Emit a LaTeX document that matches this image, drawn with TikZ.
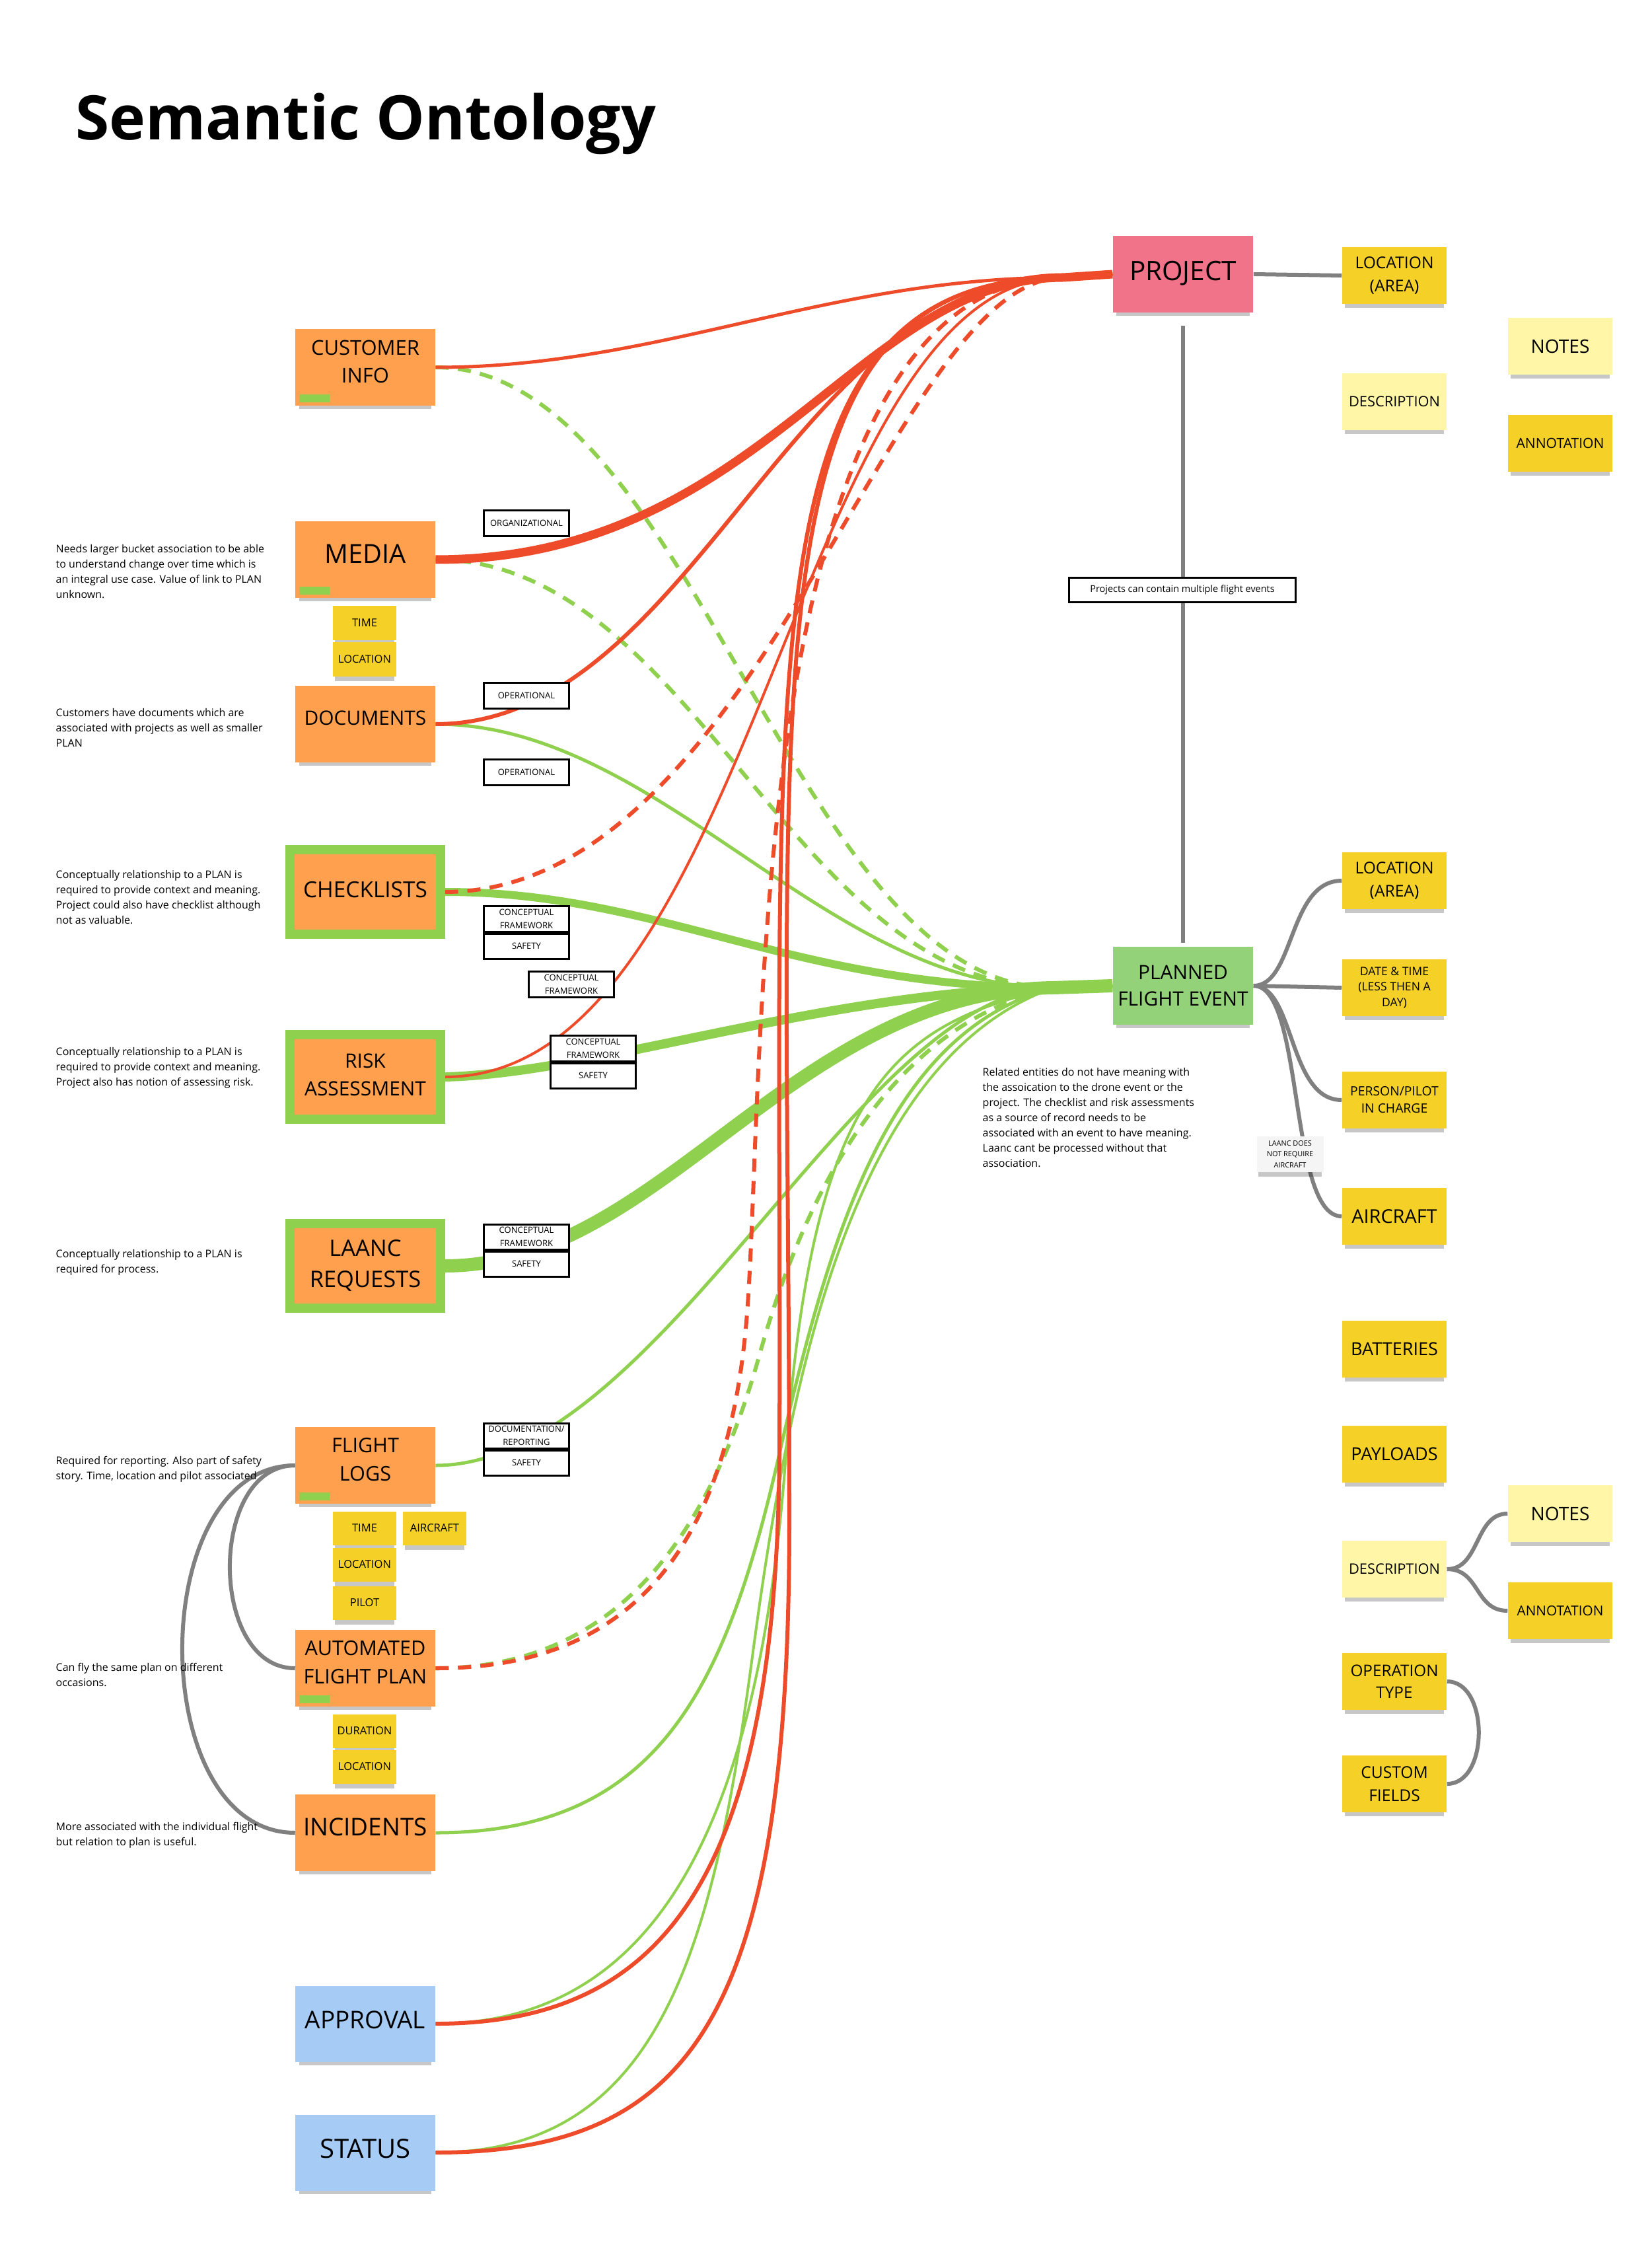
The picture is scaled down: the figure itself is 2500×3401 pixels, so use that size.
\documentclass[tikz,border=0pt]{standalone}
\usepackage{fontspec}
\setmainfont{Open Sans}
\usetikzlibrary{shadows,backgrounds,positioning}
\definecolor{stickyorange}{HTML}{FFA04F}
\definecolor{stickyyellow}{HTML}{F5D128}
\definecolor{paleyellow}{HTML}{FFF6A8}
\definecolor{stickyblue}{HTML}{A6CCF5}
\definecolor{projectpink}{HTML}{F0738A}
\definecolor{plangreen}{HTML}{94D27A}
\definecolor{linkgreen}{HTML}{8FD14F}
\definecolor{linkred}{HTML}{EE4B2B}
\definecolor{linkgray}{HTML}{808080}
\newcommand{\setfs}[2]{\fontsize{#1}{#2}\selectfont}
\begin{document}
\begin{tikzpicture}[x=0.01cm,y=-0.01cm,
    sticky/.style={inner sep=0pt,align=center,
      drop shadow={shadow xshift=0cm,shadow yshift=-0.09cm,shadow scale=0.95,opacity=0.22,fill=black}},
    orangenote/.style={sticky,fill=stickyorange,minimum width=2.11cm,minimum height=1.15cm,text depth=0.18cm},
    framednote/.style={orangenote,draw=linkgreen,line width=0.14cm,minimum width=2.27cm,minimum height=1.27cm,text depth=0.07cm},
    bluenote/.style={sticky,fill=stickyblue,minimum width=2.11cm,minimum height=1.15cm,text depth=0.12cm},
    yellownote/.style={sticky,fill=stickyyellow,minimum width=1.58cm,minimum height=0.86cm},
    palenote/.style={yellownote,fill=paleyellow},
    smallnote/.style={sticky,fill=stickyyellow,minimum width=0.95cm,minimum height=0.51cm,font=\setfs{4.7pt}{6pt}},
    linkbox/.style={draw=black,line width=0.03cm,fill=white,inner sep=0pt,align=center,
      minimum width=1.29cm,minimum height=0.38cm,font=\setfs{3.7pt}{5.6pt}},
    sidenote/.style={inner sep=0pt,align=left,anchor=north west,font=\setfs{4.55pt}{6.5pt}},
    tag/.style={fill=linkgreen,inner sep=0pt,minimum width=0.46cm,minimum height=0.12cm,anchor=south west},
    grayline/.style={draw=linkgray,line width=0.06cm},
    redlink/.style={draw=linkred,line width=0.05cm},
    reddash/.style={redlink,line width=0.06cm,dash pattern=on 0.2cm off 0.14cm},
    greenlink/.style={draw=linkgreen,line width=0.05cm},
    greendash/.style={greenlink,line width=0.06cm,dash pattern=on 0.2cm off 0.14cm}]
  \useasboundingbox (0,0) rectangle (2500,3401);

  \node[anchor=base west,inner sep=0pt,font=\bfseries\setfs{26.4pt}{32pt}] (title) at (114,212) {Semantic Ontology};

  % entities on the left
  \node[orangenote,font=\setfs{8.8pt}{12pt}] (cust) at (553,556) {CUSTOMER\\INFO};
  \node[orangenote,font=\setfs{11.3pt}{14pt}] (media) at (553,847) {MEDIA};
  \node[orangenote,font=\setfs{8.5pt}{12pt}] (docs) at (553,1096) {DOCUMENTS};
  \node[framednote,font=\setfs{9.5pt}{12pt}] (check) at (553,1350) {CHECKLISTS};
  \node[framednote,font=\setfs{8.5pt}{11.9pt}] (risk) at (553,1630) {RISK\\ASSESSMENT};
  \node[framednote,font=\setfs{9.8pt}{13.4pt}] (laanc) at (553,1916) {LAANC\\REQUESTS};
  \node[orangenote,font=\setfs{8.7pt}{12.2pt}] (flog) at (553,2218) {FLIGHT\\LOGS};
  \node[orangenote,font=\setfs{8.7pt}{12.2pt}] (auto) at (553,2525) {AUTOMATED\\FLIGHT PLAN};
  \node[orangenote,font=\setfs{10.5pt}{13pt}] (inc) at (553,2774) {INCIDENTS};
  \node[bluenote,font=\setfs{10.5pt}{13pt}] (approval) at (553,3063) {APPROVAL};
  \node[bluenote,font=\setfs{11.4pt}{14pt}] (status) at (553,3258) {STATUS};

  \node[tag] (custtag) at ([shift={(6,-5)}]cust.south west) {};
  \node[tag] (mediatag) at ([shift={(6,-5)}]media.south west) {};
  \node[tag] (flogtag) at ([shift={(6,-5)}]flog.south west) {};
  \node[tag] (autotag) at ([shift={(6,-5)}]auto.south west) {};

  \node[smallnote] (mtime) at (552,943) {TIME};
  \node[smallnote] (mloc) at (552,998) {LOCATION};
  \node[smallnote] (ftime) at (552,2313) {TIME};
  \node[smallnote] (faircraft) at (658,2313) {AIRCRAFT};
  \node[smallnote] (floc) at (552,2368) {LOCATION};
  \node[smallnote] (fpilot) at (552,2426) {PILOT};
  \node[smallnote] (adur) at (552,2620) {DURATION};
  \node[smallnote] (aloc) at (552,2674) {LOCATION};

  \node[sidenote] (ntmedia) at (84,824) {Needs larger bucket association to be able\\to understand change over time which is\\an integral use case. Value of link to PLAN\\unknown.};
  \node[sidenote] (ntdocs) at (84,1072) {Customers have documents which are\\associated with projects as well as smaller\\PLAN};
  \node[sidenote] (ntcheck) at (84,1317) {Conceptually relationship to a PLAN is\\required to provide context and meaning.\\Project could also have checklist although\\not as valuable.};
  \node[sidenote] (ntrisk) at (84,1585) {Conceptually relationship to a PLAN is\\required to provide context and meaning.\\Project also has notion of assessing risk.};
  \node[sidenote] (ntlaanc) at (84,1891) {Conceptually relationship to a PLAN is\\required for process.};
  \node[sidenote] (ntflog) at (84,2204) {Required for reporting. Also part of safety\\story. Time, location and pilot associated};
  \node[sidenote] (ntauto) at (84,2517) {Can fly the same plan on different\\occasions.};
  \node[sidenote] (ntinc) at (84,2758) {More associated with the individual flight\\but relation to plan is useful.};

  % relation labels
  \node[linkbox] (org) at (797,792) {ORGANIZATIONAL};
  \node[linkbox] (op1) at (797,1053) {OPERATIONAL};
  \node[linkbox] (op2) at (797,1169) {OPERATIONAL};
  \node[linkbox] (cf1) at (797,1391) {CONCEPTUAL\\FRAMEWORK};
  \node[linkbox,below=0pt of cf1] (saf1) {SAFETY};
  \node[linkbox] (cf2) at (865,1490) {CONCEPTUAL\\FRAMEWORK};
  \node[linkbox] (cf3) at (898,1587) {CONCEPTUAL\\FRAMEWORK};
  \node[linkbox,below=0pt of cf3] (saf3) {SAFETY};
  \node[linkbox] (cf4) at (797,1872) {CONCEPTUAL\\FRAMEWORK};
  \node[linkbox,below=0pt of cf4] (saf4) {SAFETY};
  \node[linkbox] (docrep) at (797,2173) {DOCUMENTATION/\\REPORTING};
  \node[linkbox,below=0pt of docrep] (saf5) {SAFETY};

  % project and planned flight event
  \node[sticky,fill=projectpink,minimum width=2.12cm,minimum height=1.15cm,font=\setfs{11.5pt}{14pt},text depth=0.1cm] (project) at (1791,415) {PROJECT};
  \node[sticky,fill=plangreen,minimum width=2.12cm,minimum height=1.17cm,font=\setfs{8.5pt}{11.4pt}] (pfe) at (1791,1492) {PLANNED\\FLIGHT EVENT};
  \node[linkbox,minimum width=3.42cm,minimum height=0.37cm,font=\setfs{4.1pt}{5pt}] (projinfo) at (1790,893) {Projects can contain multiple flight events};
  \node[sidenote] (ntpfe) at (1487,1616) {Related entities do not have meaning with\\the assoication to the drone event or the\\project. The checklist and risk assessments\\as a source of record needs to be\\associated with an event to have meaning.\\Laanc cant be processed without that\\association.};
  \coordinate (pjoin) at (1610,420);
  \coordinate (fjoin) at (1595,1495);

  % attributes on the right
  \node[yellownote,font=\setfs{7pt}{10pt}] (locA) at (2111,417) {LOCATION\\(AREA)};
  \node[palenote,font=\setfs{6.2pt}{8pt}] (descA) at (2111,608) {DESCRIPTION};
  \node[palenote,font=\setfs{8pt}{10pt}] (notesA) at (2362,524) {NOTES};
  \node[yellownote,font=\setfs{6pt}{8pt}] (annotA) at (2362,671) {ANNOTATION};
  \node[yellownote,font=\setfs{7pt}{10pt}] (locB) at (2111,1333) {LOCATION\\(AREA)};
  \node[yellownote,font=\setfs{5pt}{6.8pt}] (dateB) at (2111,1495) {DATE \& TIME\\(LESS THEN A\\DAY)};
  \node[yellownote,font=\setfs{5.5pt}{7.4pt}] (personB) at (2111,1665) {PERSON/PILOT\\IN CHARGE};
  \node[sticky,fill=black!4,minimum width=1.01cm,minimum height=0.54cm,font=\setfs{3.1pt}{4.6pt}] (laancnote) at (1953,1747) {LAANC DOES\\NOT REQUIRE\\AIRCRAFT};
  \node[yellownote,font=\setfs{8.2pt}{10pt}] (aircraft) at (2111,1841) {AIRCRAFT};
  \node[yellownote,font=\setfs{7.7pt}{10pt}] (batteries) at (2111,2042) {BATTERIES};
  \node[yellownote,font=\setfs{7.7pt}{10pt}] (payloads) at (2111,2201) {PAYLOADS};
  \node[palenote,font=\setfs{6.2pt}{8pt}] (descB) at (2111,2375) {DESCRIPTION};
  \node[palenote,font=\setfs{8pt}{10pt}] (notesB) at (2362,2291) {NOTES};
  \node[yellownote,font=\setfs{5.9pt}{8pt}] (annotB) at (2362,2438) {ANNOTATION};
  \node[yellownote,font=\setfs{6.9pt}{9.5pt}] (optype) at (2111,2545) {OPERATION\\TYPE};
  \node[yellownote,font=\setfs{7pt}{10pt}] (custom) at (2111,2700) {CUSTOM\\FIELDS};

  \begin{pgfonlayer}{background}
    \fill[white] (0,0) rectangle (2500,3401);
    % links to the planned flight event
    \draw[greendash] (cust.east) .. controls (1050,556) and (1200,1495) .. (fjoin) -- (pfe.west);
    \draw[greendash] (media.east) .. controls (1050,847) and (1200,1495) .. (fjoin) -- (pfe.west);
    \draw[greenlink] (docs.east) .. controls (1000,1096) and (1250,1495) .. (fjoin) -- (pfe.west);
    \draw[greenlink,line width=0.12cm] (check.east) .. controls (1000,1350) and (1200,1495) .. (fjoin) -- (pfe.west);
    \draw[greenlink,line width=0.14cm] (risk.east) .. controls (900,1625) and (1250,1500) .. (fjoin) -- (pfe.west);
    \draw[greenlink,line width=0.2cm] (laanc.east) .. controls (1000,1916) and (1200,1500) .. (fjoin) -- (pfe.west);
    \draw[greenlink] (flog.east) .. controls (1000,2218) and (1300,1500) .. (fjoin) -- (pfe.west);
    \draw[greendash] (auto.east) .. controls (950,2525) and (1080,2300) .. (1150,2050)
      .. controls (1220,1800) and (1350,1550) .. (fjoin) -- (pfe.west);
    \draw[greenlink] (inc.east) .. controls (1000,2774) and (1100,2550) .. (1180,2200)
      .. controls (1260,1850) and (1350,1560) .. (fjoin) -- (pfe.west);
    \draw[greenlink,line width=0.04cm] (approval.east) .. controls (1000,3063) and (1150,2750) .. (1190,2200)
      .. controls (1230,1650) and (1350,1550) .. (fjoin) -- (pfe.west);
    \draw[greenlink,line width=0.04cm] (status.east) .. controls (1000,3258) and (1080,2950) .. (1140,2500)
      .. controls (1200,2050) and (1300,1600) .. (fjoin) -- (pfe.west);
    % links to the project
    \draw[redlink] (cust.east) .. controls (1000,556) and (1250,420) .. (pjoin) -- (project.west);
    \draw[redlink,line width=0.13cm] (media.east) .. controls (1150,847) and (1300,420) .. (pjoin) -- (project.west);
    \draw[redlink,line width=0.06cm] (docs.east) .. controls (1050,1096) and (1200,420) .. (pjoin) -- (project.west);
    \draw[reddash] (check.east) .. controls (1150,1350) and (1350,420) .. (pjoin) -- (project.west);
    \draw[redlink,line width=0.04cm] (risk.east) .. controls (1150,1630) and (1200,420) .. (pjoin) -- (project.west);
    \draw[reddash] (auto.east) .. controls (950,2525) and (1100,2350) .. (1130,2000)
      .. controls (1160,1650) and (1120,420) .. (pjoin) -- (project.west);
    \draw[redlink,line width=0.06cm] (approval.east) .. controls (1000,3063) and (1175,2850) .. (1180,2200)
      .. controls (1185,1000) and (1120,420) .. (pjoin) -- (project.west);
    \draw[redlink,line width=0.06cm] (status.east) .. controls (1050,3258) and (1195,3050) .. (1195,2300)
      .. controls (1195,1000) and (1120,420) .. (pjoin) -- (project.west);
    % grey structure lines
    \draw[grayline] (project.east) -- (locA.west);
    \draw[grayline] ([yshift=-0.2cm]project.south) -- ([yshift=0.06cm]pfe.north);
    \draw[grayline] (pfe.east) .. controls (1960,1492) and (1950,1333) .. (locB.west);
    \draw[grayline] (pfe.east) -- (dateB.west);
    \draw[grayline] (pfe.east) .. controls (1960,1492) and (1950,1665) .. (personB.west);
    \draw[grayline] (pfe.east) .. controls (1975,1492) and (1950,1841) .. (aircraft.west);
    \draw[grayline] (descB.east) .. controls +(50,0) and +(-50,0) .. (notesB.west);
    \draw[grayline] (descB.east) .. controls +(50,0) and +(-50,0) .. (annotB.west);
    \draw[grayline] (optype.east) .. controls +(64,0) and +(64,0) .. (custom.east);
    \draw[grayline] (flog.west) .. controls (315,2218) and (315,2525) .. (auto.west);
    \draw[grayline] (flog.west) .. controls (219,2218) and (219,2774) .. (inc.west);
  \end{pgfonlayer}
\end{tikzpicture}
\end{document}
